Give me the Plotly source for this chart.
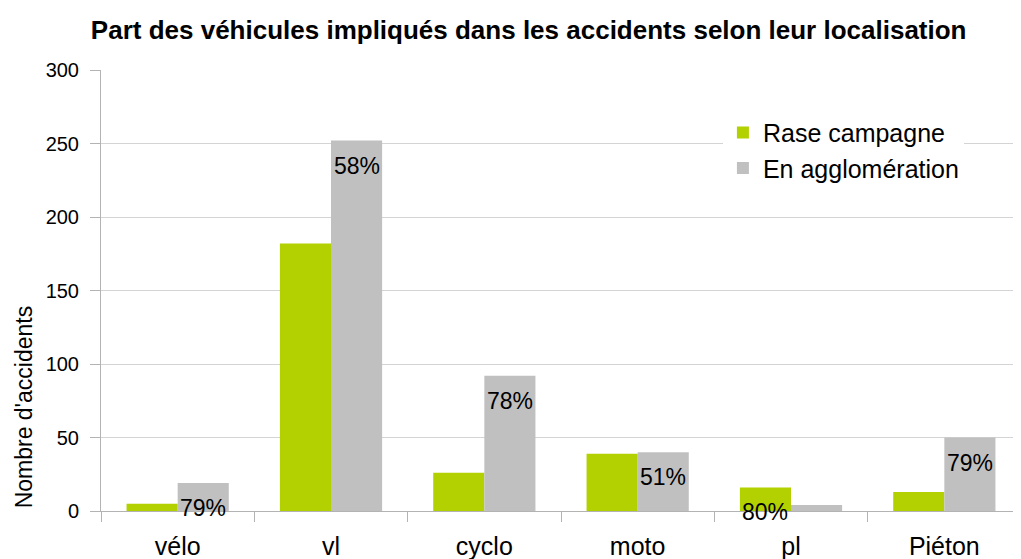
import plotly.graph_objects as go

categories = ["vélo", "vl", "cyclo", "moto", "pl", "Piéton"]
rase_campagne = [5, 182, 26, 39, 16, 13]
en_agglomeration = [19, 252, 92, 40, 4, 50]
pct_labels = ["79%", "58%", "78%", "51%", "80%", "79%"]
label_on = ["agglo", "agglo", "agglo", "agglo", "campagne", "agglo"]
y_ticks = [0, 50, 100, 150, 200, 250, 300]

GREEN = "#b3d000"
GRAY = "#c0c0c0"
FONT = "Liberation Sans, Arial, sans-serif"

fig = go.Figure()
fig.add_trace(go.Bar(name="Rase campagne", x=categories, y=rase_campagne,
                     marker=dict(color=GREEN, line=dict(width=0))))
fig.add_trace(go.Bar(name="En agglomération", x=categories, y=en_agglomeration,
                     marker=dict(color=GRAY, line=dict(width=0))))

annotations = []
for i, (lab, which) in enumerate(zip(pct_labels, label_on)):
    if which == "agglo":
        xv, yv = i + 1/6, en_agglomeration[i]
    else:
        xv, yv = i - 1/6, rase_campagne[i]
    annotations.append(dict(x=xv, y=yv, xref="x", yref="y", text=lab,
                            showarrow=False, yanchor="top", xanchor="center",
                            yshift=-10, font=dict(family=FONT, size=23, color="#000000")))

# y-axis title (placed like the original, low on the axis)
annotations.append(dict(x=0, y=0.235, xref="paper", yref="paper", text="Nombre d'accidents",
                        textangle=-90, showarrow=False, xanchor="center", yanchor="middle",
                        xshift=-77, font=dict(family=FONT, size=23, color="#000000")))

fig.update_layout(
    width=1013, height=551,
    margin=dict(l=93, r=0, t=62, b=47.5),
    paper_bgcolor="white", plot_bgcolor="white",
    barmode="group", bargap=1/3, bargroupgap=0,
    font=dict(family=FONT, color="#000000"),
    title=dict(text="<b>Part des véhicules impliqués dans les accidents selon leur localisation</b>",
               x=0.514, xanchor="center", y=0.96, yanchor="middle",
               font=dict(family=FONT, size=26, color="#000000")),
    legend=dict(x=0.676, y=0.91, xanchor="left", yanchor="top",
                bgcolor="white", borderwidth=0,
                font=dict(family=FONT, size=25, color="#000000"),
                tracegroupgap=0),
    annotations=annotations,
    xaxis=dict(type="category", tickson="boundaries", ticks="outside", ticklen=10,
               tickcolor="#b3b3b3", showline=True, linecolor="#b3b3b3", linewidth=1,
               showgrid=False, tickfont=dict(family=FONT, size=25, color="#000000"),
               ticklabelstandoff=13, range=[-0.5, 5.5]),
    yaxis=dict(range=[0, 300], tickvals=y_ticks, ticks="outside", ticklen=10,
               tickcolor="#b3b3b3", showline=True, linecolor="#b3b3b3", linewidth=1,
               showgrid=True, gridcolor="#d4d4d4", gridwidth=1, zeroline=False,
               ticklabelstandoff=7,
               tickfont=dict(family=FONT, size=20, color="#000000")),
)

fig.write_html("out.html")
